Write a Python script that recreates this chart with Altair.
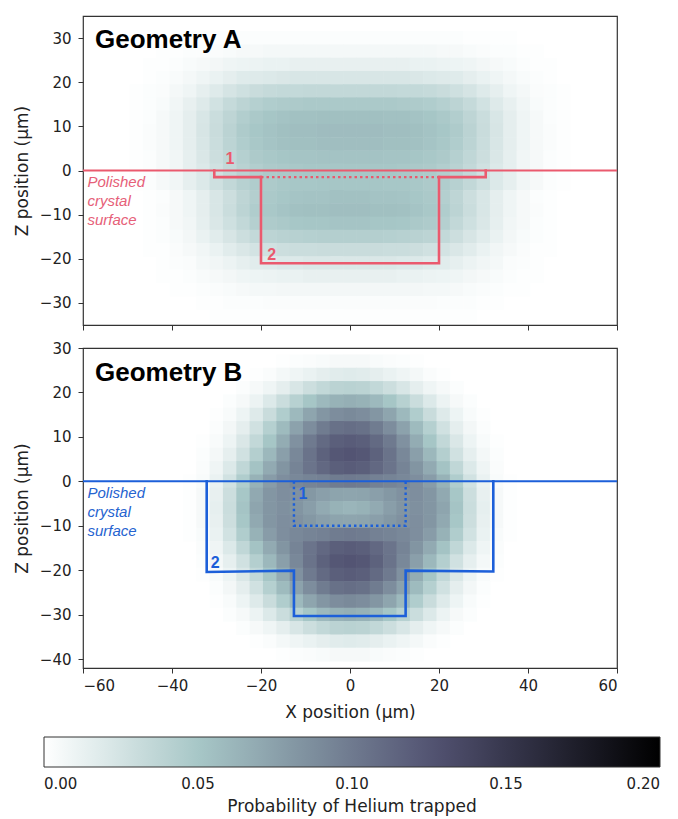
import altair as alt
import pandas as pd

# ---------------- axes ----------------
X_DOMAIN = [-60, 60]
X_TICKS = [-60, -40, -20, 0, 20, 40, 60]
A_Z_DOMAIN = [-35, 35]
A_Z_TICKS = [-30, -20, -10, 0, 10, 20, 30]
B_Z_DOMAIN = [-42, 30]
B_Z_TICKS = [-40, -30, -20, -10, 0, 10, 20, 30]
CB_TICKS = [0.0, 0.05, 0.10, 0.15, 0.20]

# bone_r colour map stops (value -> colour)
CMAP_STOPS = [0.0, 0.0508, 0.127, 0.2]
CMAP_COLORS = ["#ffffff", "#a6c6c6", "#515171", "#000000"]

# ---------------- density grids (probability x 1000), 3 um cells ----------------
CELL = 3
# Geometry A: columns x = -51 .. 51, rows z = 30 .. -33
A_X0, A_Z0 = -51, 30
density_A = [
    [0,0,0,0,0,1,1,1,1,2,2,2,2,2,2,2,2, 2,2,2,2,2,2,2,2,2,1,1,1,1,0,0,0,0,0],
    [0,0,0,1,1,2,2,3,4,5,5,6,6,6,6,6,6, 6,6,6,6,6,6,6,5,5,4,3,2,2,1,1,0,0,0],
    [0,0,1,1,2,4,5,7,9,10,11,12,12,13,13,13,13, 13,13,13,13,13,12,12,11,10,9,7,5,4,2,1,1,0,0],
    [0,0,1,2,4,6,9,12,15,18,19,20,21,22,22,22,22, 22,22,22,22,22,21,20,19,18,15,12,9,6,4,2,1,0,0],
    [0,1,2,3,6,9,14,19,24,28,31,33,34,34,35,35,35, 35,35,35,35,34,34,33,31,28,24,19,14,9,6,3,2,1,0],
    [0,1,2,4,8,13,19,26,33,38,42,45,46,47,48,48,48, 48,48,48,48,47,46,45,42,38,33,26,19,13,8,4,2,1,0],
    [0,1,2,5,9,15,22,30,37,44,48,51,53,54,54,55,55, 55,55,55,54,54,53,51,48,44,37,30,22,15,9,5,2,1,0],
    [0,1,3,5,9,15,23,31,39,46,50,53,55,56,56,57,57, 57,57,57,56,56,55,53,50,46,39,31,23,15,9,5,3,1,0],
    [0,1,3,5,9,15,22,30,38,45,49,52,54,55,55,56,56, 56,56,56,55,55,54,52,49,45,38,30,22,15,9,5,3,1,0],
    [0,1,2,5,8,14,21,29,36,42,47,49,51,52,52,53,53, 53,53,53,52,52,51,49,47,42,36,29,21,14,8,5,2,1,0],
    [0,1,2,5,8,14,20,27,34,40,44,47,48,49,50,50,50, 50,50,50,50,49,48,47,44,40,34,27,20,14,8,5,2,1,0],
    [0,1,2,5,8,14,20,28,35,41,45,47,49,50,50,51,51, 51,51,51,50,50,49,47,45,41,35,28,20,14,8,5,2,1,0],
    [0,0,1,2,5,9,15,22,29,37,43,48,50,52,53,53,54, 54,54,53,53,52,50,48,43,37,29,22,15,9,5,2,1,0,0],
    [0,0,1,3,5,9,15,22,30,38,45,49,52,54,55,55,56, 56,56,55,55,54,52,49,45,38,30,22,15,9,5,3,1,0,0],
    [0,0,1,2,5,8,14,21,28,35,42,46,48,50,51,51,52, 52,52,51,51,50,48,46,42,35,28,21,14,8,5,2,1,0,0],
    [0,0,1,2,4,7,12,17,23,29,34,38,40,41,42,43,43, 43,43,43,42,41,40,38,34,29,23,17,12,7,4,2,1,0,0],
    [0,0,1,1,3,5,8,12,17,21,25,27,29,30,30,31,31, 31,31,31,30,30,29,27,25,21,17,12,8,5,3,1,1,0,0],
    [0,0,0,1,2,3,6,8,11,14,17,18,20,20,21,21,21, 21,21,21,21,20,20,18,17,14,11,8,6,3,2,1,0,0,0],
    [0,0,0,1,1,2,4,5,7,9,10,11,12,12,13,13,13, 13,13,13,13,12,12,11,10,9,7,5,4,2,1,1,0,0,0],
    [0,0,0,0,1,1,2,3,4,5,6,6,7,7,7,7,7, 7,7,7,7,7,7,6,6,5,4,3,2,1,1,0,0,0,0],
    [0,0,0,0,0,0,1,1,2,2,2,3,3,3,3,3,3, 3,3,3,3,3,3,3,2,2,2,1,1,0,0,0,0,0,0],
    [0,0,0,0,0,0,0,1,1,1,1,1,1,1,1,1,1, 1,1,1,1,1,1,1,1,1,1,0,0,0,0,0,0,0,0],
]
# Geometry B: columns x = -36 .. 36, rows z = 27 .. -39
B_X0, B_Z0 = -36, 27
density_B = [
    [0,0,0,0,0,0,0,1,2,3,4,5, 5,5,4,3,2,1,0,0,0,0,0,0,0],
    [0,0,0,0,0,1,3,6,9,12,15,17, 18,17,15,12,9,6,3,1,0,0,0,0,0],
    [0,0,0,0,2,5,9,15,22,29,35,39, 40,39,35,29,22,15,9,5,2,0,0,0,0],
    [0,0,0,2,5,11,20,30,41,51,59,64, 66,64,59,51,41,30,20,11,5,2,0,0,0],
    [0,0,1,4,10,19,31,45,59,72,82,88, 90,88,82,72,59,45,31,19,10,4,1,0,0],
    [0,0,2,7,15,27,42,58,74,88,99,106, 108,106,99,88,74,58,42,27,15,7,2,0,0],
    [0,1,4,10,21,35,51,68,85,100,111,118, 120,118,111,100,85,68,51,35,21,10,4,1,0],
    [0,2,6,14,27,43,60,76,91,105,116,123, 125,123,116,105,91,76,60,43,27,14,6,2,0],
    [0,3,9,20,36,53,69,83,94,104,112,118, 120,118,112,104,94,83,69,53,36,20,9,3,0],
    [1,4,12,26,45,64,78,87,91,94,96,99, 100,99,96,94,91,87,78,64,45,26,12,4,1],
    [1,5,13,29,50,70,82,87,85,81,76,73, 72,73,76,81,85,87,82,70,50,29,13,5,1],
    [1,5,14,30,52,72,82,86,83,77,69,64, 62,64,69,77,83,86,82,72,52,30,14,5,1],
    [1,5,13,29,50,70,82,87,85,81,76,73, 72,73,76,81,85,87,82,70,50,29,13,5,1],
    [1,4,12,26,45,64,78,87,91,94,96,99, 100,99,96,94,91,87,78,64,45,26,12,4,1],
    [0,3,9,20,36,53,69,83,94,104,112,118, 120,118,112,104,94,83,69,53,36,20,9,3,0],
    [0,2,6,14,27,43,60,76,91,105,116,123, 125,123,116,105,91,76,60,43,27,14,6,2,0],
    [0,1,4,10,21,35,51,68,85,100,111,118, 120,118,111,100,85,68,51,35,21,10,4,1,0],
    [0,0,2,7,15,27,42,58,74,88,99,106, 108,106,99,88,74,58,42,27,15,7,2,0,0],
    [0,0,1,4,10,19,31,45,59,72,82,88, 90,88,82,72,59,45,31,19,10,4,1,0,0],
    [0,0,0,2,5,11,20,30,41,51,59,64, 66,64,59,51,41,30,20,11,5,2,0,0,0],
    [0,0,0,0,2,5,9,15,22,29,35,39, 40,39,35,29,22,15,9,5,2,0,0,0,0],
    [0,0,0,0,0,1,3,6,9,12,15,17, 18,17,15,12,9,6,3,1,0,0,0,0,0],
    [0,0,0,0,0,0,0,1,2,3,4,5, 5,5,4,3,2,1,0,0,0,0,0,0,0],
]

# ---------------- geometry outlines (x, z) ----------------
surface_x = [-60, 60]
surface_z = [0, 0]
A_geo1_left_x = [-30.5, -30.5, -20]
A_geo1_left_z = [0, -1.5, -1.5]
A_geo1_dot_x = [-20, 20]
A_geo1_dot_z = [-1.5, -1.5]
A_geo1_right_x = [20, 30.5, 30.5]
A_geo1_right_z = [-1.5, -1.5, 0]
A_geo2_x = [-20, -20, 20, 20]
A_geo2_z = [-1.5, -21, -21, -1.5]

B_geo2_x = [-32.2, -32.2, -12.6, -12.6, 12.5, 12.5, 32.2, 32.2]
B_geo2_z = [0, -20.4, -20.1, -30.3, -30.3, -20.1, -20.3, 0]
B_geo1_x = [-12.6, -12.6, 12.5, 12.5]
B_geo1_z = [0, -10, -10, 0]

RED = "#ea5a6e"
RED_TXT = "#e66078"
BLUE = "#1c5fd9"
BLUE_TXT = "#2563d0"

# ---------------- helpers ----------------
def grid_df(rows, x0, z0):
    recs = []
    h = CELL / 2 + 0.06
    for i, row in enumerate(rows):
        z = z0 - i * CELL
        for j, v in enumerate(row):
            if v <= 0:
                continue
            x = x0 + j * CELL
            recs.append({"x1": x - h, "x2": x + h, "z1": z - h, "z2": z + h, "p": v / 1000})
    return pd.DataFrame(recs)


def path_df(paths):
    recs = []
    for name, xs, zs in paths:
        for k, (x, z) in enumerate(zip(xs, zs)):
            recs.append({"path": name, "seq": k, "x": x, "z": z})
    return pd.DataFrame(recs)


AXIS_FONT = "DejaVu Sans"
color_scale = alt.Scale(domain=CMAP_STOPS, range=CMAP_COLORS, interpolate="rgb", clamp=True)


def panel(rows, x0, z0, zdom, zticks, solid, dotted, color, txtcolor, title, tlab_z,
          num_labels, show_x_labels, height):
    xs = alt.Scale(domain=X_DOMAIN, nice=False, zero=False)
    zs = alt.Scale(domain=zdom, nice=False, zero=False)
    xaxis = alt.Axis(values=X_TICKS, labels=show_x_labels, title="X position (µm)" if show_x_labels else None,
                     tickSize=5, tickColor="#333", domain=False, grid=False,
                     labelFont=AXIS_FONT, labelFontSize=15, labelColor="#222", labelPadding=5,
                     titleFont=AXIS_FONT, titleFontSize=17, titleFontWeight="normal", titleColor="#222",
                     titlePadding=11)
    zaxis = alt.Axis(values=zticks, title="Z position (µm)", tickSize=5, tickColor="#333", domain=False,
                     grid=False, labelFont=AXIS_FONT, labelFontSize=15, labelColor="#222", labelPadding=7,
                     titleFont=AXIS_FONT, titleFontSize=17, titleFontWeight="normal", titleColor="#222",
                     titlePadding=8)

    heat = alt.Chart(grid_df(rows, x0, z0)).mark_rect(strokeWidth=0).encode(
        x=alt.X("x1:Q", scale=xs, axis=xaxis),
        x2="x2:Q",
        y=alt.Y("z1:Q", scale=zs, axis=zaxis),
        y2="z2:Q",
        color=alt.Color("p:Q", scale=color_scale, legend=alt.Legend(
            orient="none", legendX=-39, legendY=721, direction="horizontal",
            gradientLength=616, gradientThickness=30, gradientStrokeColor="#333",
            gradientStrokeWidth=1, values=CB_TICKS, format=".2f",
            title="Probability of Helium trapped", titleOrient="bottom", titleAnchor="middle",
            titleAlign="center", titleFont=AXIS_FONT, titleFontSize=17, titleFontWeight="normal",
            titleColor="#222", titlePadding=7, titleLimit=0, labelFont=AXIS_FONT, labelFontSize=15,
            labelColor="#222", labelAlign="center", labelOffset=10)),
    )

    solid_l = alt.Chart(path_df(solid)).mark_line(color=color, strokeWidth=2.6, strokeJoin="miter",
                                                  strokeCap="square").encode(
        x=alt.X("x:Q", scale=xs), y=alt.Y("z:Q", scale=zs), detail="path:N", order="seq:Q")
    surf = alt.Chart(path_df([("s", surface_x, surface_z)])).mark_line(color=color, strokeWidth=2).encode(
        x=alt.X("x:Q", scale=xs), y=alt.Y("z:Q", scale=zs), detail="path:N", order="seq:Q")
    dot_l = alt.Chart(path_df(dotted)).mark_line(color=color, strokeWidth=2.4, strokeDash=[2.5, 3]).encode(
        x=alt.X("x:Q", scale=xs), y=alt.Y("z:Q", scale=zs), detail="path:N", order="seq:Q")

    ttl = alt.Chart(pd.DataFrame({"x": [-57.3], "z": [tlab_z], "t": [title]})).mark_text(
        font="Liberation Sans", fontSize=26, fontWeight="bold", color="#000", align="left",
        baseline="alphabetic").encode(x=alt.X("x:Q", scale=xs), y=alt.Y("z:Q", scale=zs), text="t:N")

    pol = alt.Chart(pd.DataFrame({"x": [-59.0], "z": [-3.8], "t": [["Polished", "crystal", "surface"]]})).mark_text(
        font="Liberation Sans", fontSize=15, fontStyle="italic", color=txtcolor, align="left",
        baseline="alphabetic", lineHeight=19).encode(
        x=alt.X("x:Q", scale=xs), y=alt.Y("z:Q", scale=zs), text="t")

    nl = alt.Chart(pd.DataFrame(num_labels, columns=["x", "z", "t"])).mark_text(
        font="Liberation Sans", fontSize=16, fontWeight="bold", color=color, align="left",
        baseline="alphabetic").encode(x=alt.X("x:Q", scale=xs), y=alt.Y("z:Q", scale=zs), text="t:N")

    return alt.layer(heat, surf, solid_l, dot_l, nl, pol, ttl).properties(width=534, height=height)


panel_A = panel(
    density_A, A_X0, A_Z0, A_Z_DOMAIN, A_Z_TICKS,
    solid=[("g1l", A_geo1_left_x, A_geo1_left_z), ("g1r", A_geo1_right_x, A_geo1_right_z),
           ("g2", A_geo2_x, A_geo2_z)],
    dotted=[("g1d", A_geo1_dot_x, A_geo1_dot_z)],
    color=RED, txtcolor=RED_TXT, title="Geometry A", tlab_z=27.7,
    num_labels=[[-28.0, 1.4, "1"], [-18.6, -20.3, "2"]], show_x_labels=False, height=309)

panel_B = panel(
    density_B, B_X0, B_Z0, B_Z_DOMAIN, B_Z_TICKS,
    solid=[("g2", B_geo2_x, B_geo2_z)],
    dotted=[("g1", B_geo1_x, B_geo1_z)],
    color=BLUE, txtcolor=BLUE_TXT, title="Geometry B", tlab_z=22.5,
    num_labels=[[-11.6, -4.0, "1"], [-31.3, -19.5, "2"]], show_x_labels=True, height=320)

chart = alt.vconcat(panel_A, panel_B, spacing=23, bounds="flush").properties(
    padding={"left": 12, "top": 15, "right": 5, "bottom": 5},
    background="white",
).configure_view(stroke="#333", strokeWidth=1.2)

chart.save("out.html", embed_options={"renderer": "svg", "actions": False})
